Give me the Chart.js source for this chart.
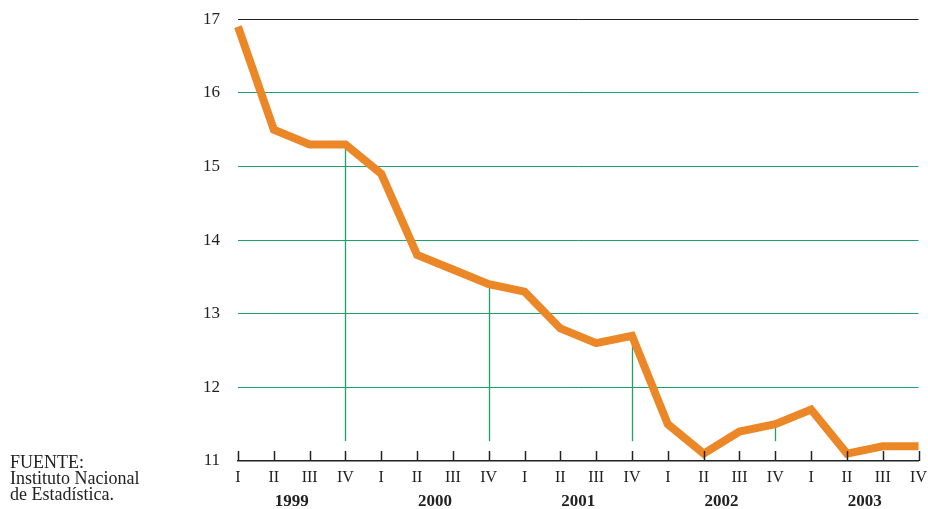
<!DOCTYPE html>
<html><head><meta charset="utf-8">
<script src="https://cdn.jsdelivr.net/npm/chart.js@4/dist/chart.umd.min.js"></script>
<style>
html,body{margin:0;padding:0;background:#fff;overflow:hidden;}
#wrap{position:relative;width:928px;height:509px;overflow:hidden;}
#c{position:absolute;left:0;top:-9px;}
#note{position:absolute;left:10px;top:454px;font-family:"Liberation Serif",serif;font-size:18px;line-height:16px;color:#222;}
</style></head>
<body>
<div id="wrap"><canvas id="c" width="934" height="518"></canvas>
<div id="note">FUENTE:<br>Instituto Nacional<br>de Estadística.</div></div>
<script>
const quarters = ["I","II","III","IV","I","II","III","IV","I","II","III","IV","I","II","III","IV","I","II","III","IV"];
const years = ["1999","2000","2001","2002","2003"];
const values = [16.9,15.5,15.3,15.3, 14.9,13.8,13.6,13.4, 13.3,12.8,12.6,12.7, 11.5,11.1,11.4,11.5, 11.7,11.1,11.2,11.2];
const yTicks = [11,12,13,14,15,16,17];

const GREEN = "rgb(30,160,105)";
const ORANGE = "rgb(236,135,40)";
const FONT = "'Liberation Serif', serif";

const deco = {
  id: "deco",
  beforeDatasetsDraw(chart) {
    const {ctx, scales:{x, y}} = chart;
    ctx.save();
    ctx.strokeStyle = GREEN; ctx.lineWidth = 1.3;
    for (let i = 3; i < values.length - 1; i += 4) {
      const px = Math.round(x.getPixelForValue(i)) + 0.5;
      ctx.beginPath();
      ctx.moveTo(px, y.getPixelForValue(11.27));
      ctx.lineTo(px, y.getPixelForValue(values[i]));
      ctx.stroke();
    }
    ctx.restore();
  },
  afterDraw(chart) {
    const {ctx, scales:{x, y}} = chart;
    ctx.save();
    const base = y.getPixelForValue(11);
    ctx.strokeStyle = "#222"; ctx.lineWidth = 1.5;
    for (let i = 0; i < quarters.length; i++) {
      const px = Math.round(x.getPixelForValue(i)) + 0.5;
      ctx.beginPath(); ctx.moveTo(px, base); ctx.lineTo(px, base - 10); ctx.stroke();
    }
    ctx.fillStyle = "#222";
    ctx.font = "bold 17px " + FONT;
    ctx.textAlign = "center"; ctx.textBaseline = "middle";
    years.forEach((yr, k) => {
      const px = (x.getPixelForValue(k*4+1) + x.getPixelForValue(k*4+2)) / 2;
      ctx.fillText(yr, px, base + 41);
    });
    ctx.restore();
  }
};

new Chart(document.getElementById("c"), {
  type: "line",
  data: { labels: quarters, datasets: [{ data: values, borderColor: ORANGE, borderWidth: 8, pointRadius: 0, tension: 0, fill: false, borderJoinStyle: "miter", borderCapStyle: "butt" }] },
  options: {
    responsive: false, animation: false,
    layout: { padding: { top: 0, right: 0, left: 0, bottom: 0 } },
    plugins: { legend: { display: false }, tooltip: { enabled: false } },
    scales: {
      x: {
        offset: false,
        grid: { display: false, drawTicks: false },
        border: { display: true, color: "#222", width: 1.5 },
        ticks: { autoSkip: false, maxRotation: 0, padding: 7, color: "#222", font: { family: FONT, size: 16 } },
        afterFit(s) { s.height = 48; }
      },
      y: {
        min: 11, max: 17,
        afterBuildTicks(s) { s.ticks = yTicks.map(v => ({ value: v })); },
        grid: { drawTicks: false, tickLength: 0, lineWidth: 1,
          color: ["rgba(0,0,0,0)", GREEN, GREEN, GREEN, GREEN, GREEN, "#222"] },
        border: { display: false },
        ticks: { padding: 18, color: "#222", font: { family: FONT, size: 17 } },
        afterFit(s) { s.width = 238; }
      }
    }
  },
  plugins: [deco]
});
</script>
</body></html>
